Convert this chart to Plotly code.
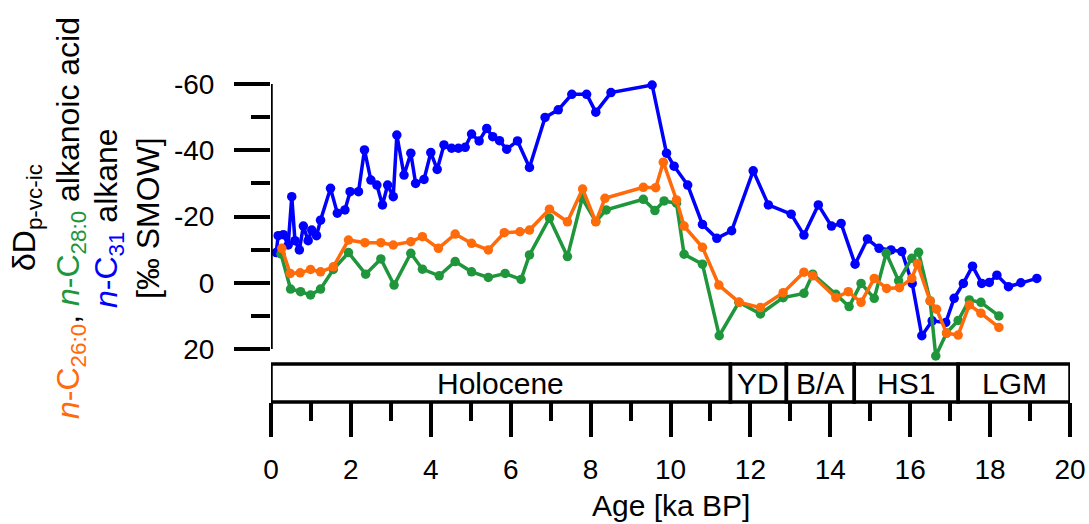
import plotly.graph_objects as go

# ---- data ----
blue_age = [0.13, 0.18, 0.31, 0.43, 0.52, 0.60, 0.71, 0.81, 0.93, 1.02, 1.14, 1.24, 1.49, 1.66, 1.85, 1.98,
            2.19, 2.34, 2.50, 2.65, 2.79, 2.92, 3.06, 3.15, 3.33, 3.50, 3.62, 3.83, 4.00, 4.16, 4.33, 4.52,
            4.69, 4.86, 5.02, 5.21, 5.40, 5.55, 5.72, 5.90, 6.17, 6.47, 6.86, 7.19, 7.53, 7.90, 8.13, 8.51,
            9.54, 9.90, 10.09, 10.43, 10.80, 11.16, 11.53, 12.07, 12.45, 13.02, 13.34, 13.70, 14.03, 14.27,
            14.62, 14.93, 15.22, 15.52, 15.79, 16.05, 16.29, 16.55, 16.89, 17.10, 17.33, 17.56, 17.79, 17.98,
            18.17, 18.46, 18.77, 19.17]
blue_dd = [-9.1, -14.2, -14.5, -11.4, -26.0, -12.7, -9.9, -17.1, -12.7, -15.9, -14.2, -18.9, -28.5, -21.0, -22.0, -27.5,
           -27.5, -40.1, -31.0, -29.5, -23.5, -29.5, -26.0, -44.6, -32.5, -39.1, -30.0, -31.2, -39.3, -34.2, -41.6, -40.6,
           -40.6, -40.9, -44.9, -42.8, -46.6, -44.1, -42.9, -40.3, -42.8, -34.8, -49.9, -52.2, -56.9, -56.9, -51.5, -57.4,
           -59.7, -39.1, -35.2, -29.5, -17.6, -13.4, -15.7, -33.8, -23.5, -20.7, -14.4, -23.5, -17.1, -17.9,
           -5.6, -13.2, -10.4, -9.9, -9.4, 0.2, 16.0, 11.5, 12.0, 4.7, 0.2, -5.0, 0.2, -0.1,
           -2.3, 1.2, 0.0, -1.3]

orange_age = [0.27, 0.48, 0.73, 0.99, 1.24, 1.56, 1.94, 2.35, 2.75, 3.06, 3.50, 3.79, 4.19, 4.61, 5.02, 5.44,
              5.84, 6.23, 6.47, 6.97, 7.42, 7.80, 8.13, 8.36, 9.32, 9.63, 9.82, 10.15, 10.34, 10.80, 11.21, 11.72,
              12.25, 12.82, 13.34, 13.56, 14.14, 14.45, 14.77, 15.10, 15.41, 15.73, 16.04, 16.18, 16.50, 16.66,
              16.91, 17.20, 17.48, 17.77, 18.22]
orange_dd = [-10.4, -2.8, -3.0, -4.0, -3.3, -4.8, -12.9, -12.1, -12.1, -11.4, -12.4, -13.9, -10.4, -14.7, -11.9, -9.9,
             -15.1, -15.4, -15.9, -22.2, -18.4, -28.3, -18.4, -25.5, -28.8, -28.7, -36.4, -25.0, -17.1, -10.7, 0.7, 5.9,
             7.5, 3.0, -3.2, -2.1, 4.5, 2.7, 5.9, -1.3, 1.7, 1.5, -1.3, -5.7, 5.5, 8.0,
             15.2, 15.8, 6.7, 9.2, 13.5]

green_age = [0.25, 0.49, 0.74, 0.99, 1.24, 1.56, 1.94, 2.37, 2.75, 3.08, 3.50, 3.79, 4.21, 4.61, 5.02, 5.44,
             5.86, 6.26, 6.47, 6.97, 7.42, 7.79, 8.13, 8.39, 9.32, 9.61, 9.84, 10.15, 10.34, 10.80, 11.22, 11.71,
             12.25, 12.82, 13.34, 13.56, 14.14, 14.47, 14.77, 15.10, 15.40, 15.71, 16.04, 16.21, 16.50, 16.64,
             16.91, 17.20, 17.48, 17.77, 18.22]
green_dd = [-8.7, 1.9, 2.7, 3.7, 1.9, -4.0, -9.1, -2.6, -7.2, 0.7, -8.9, -4.1, -2.1, -6.4, -3.3, -1.6,
            -2.8, -1.0, -8.4, -19.5, -7.9, -25.5, -18.5, -22.0, -25.2, -21.8, -24.7, -24.0, -8.6, -5.6, 16.0, 5.9,
            9.4, 4.5, 3.2, -2.6, 3.5, 7.2, 0.2, 4.7, -8.9, -0.6, -7.4, -9.2, 5.5, 22.1,
            15.2, 11.4, 5.2, 5.9, 10.0]

period_names = ["Holocene", "YD", "B/A", "HS1", "LGM"]
period_start = [0.0, 11.5, 12.9, 14.6, 17.2]
period_end = [11.5, 12.9, 14.6, 17.2, 20.0]

x_major = [0, 2, 4, 6, 8, 10, 12, 14, 16, 18, 20]
x_labels = ["0", "2", "4", "6", "8", "10", "12", "14", "16", "18", "20"]
y_major = [-60, -40, -20, 0, 20]
y_labels = ["-60", "-40", "-20", "0", "20"]
y_minor = [-50, -30, -10, 10]

# ---- style ----
BLUE = "#0000FF"
ORANGE = "#FF6A0A"
GREEN = "#20963C"
FONT = "Arial, Liberation Sans, sans-serif"

W, H = 1089, 524
L, R, T, B = 271, 19, 84, 122
plot_h = H - T - B
Y_TOP_VAL, Y_BOT_VAL = -60, 22.5
Y_AXIS_BOTTOM_PX = 349  # pixel of value 20
px_per_unit = (Y_AXIS_BOTTOM_PX - T) / 80.0
y_dom_bottom_px = T + (Y_BOT_VAL - Y_TOP_VAL) * px_per_unit
y_dom0 = (H - B - y_dom_bottom_px) / plot_h
box_top = (H - B - 364) / plot_h


def paper_x(px):
    return (px - L) / (W - L - R)


def paper_y(py):
    return (H - B - py) / plot_h


fig = go.Figure()
for xs, ys, col in [(blue_age, blue_dd, BLUE), (green_age, green_dd, GREEN), (orange_age, orange_dd, ORANGE)]:
    fig.add_trace(go.Scatter(x=xs, y=ys, mode="lines+markers",
                             line=dict(color=col, width=3.5),
                             marker=dict(color=col, size=9.5),
                             cliponaxis=False, showlegend=False))

shapes = []
for s, e in zip(period_start, period_end):
    shapes.append(dict(type="rect", xref="x", yref="paper", x0=s, x1=e, y0=0, y1=box_top,
                       line=dict(color="black", width=3.5), fillcolor="rgba(0,0,0,0)", layer="above"))
# y axis line
shapes.append(dict(type="line", xref="x", yref="y", x0=0, x1=0, y0=-60, y1=20,
                   line=dict(color="black", width=3.5)))

annotations = []
for name, s, e in zip(period_names, period_start, period_end):
    annotations.append(dict(x=(s + e) / 2, y=box_top / 2, xref="x", yref="paper", text=name,
                            showarrow=False, font=dict(size=30, color="black", family=FONT),
                            xanchor="center", yanchor="middle"))

annotations.append(dict(x=10, y=paper_y(505), xref="x", yref="paper", text="Age [ka BP]",
                        showarrow=False, font=dict(size=30, color="black", family=FONT),
                        xanchor="center", yanchor="middle"))

title_lines = [
    (26, "δD<sub>p-vc-ic</sub>"),
    (70, f"<span style='color:{ORANGE}'><i>n</i>-C<sub>26:0</sub></span>, "
         f"<span style='color:{GREEN}'><i>n</i>-C<sub>28:0</sub></span> alkanoic acid"),
    (108, f"<span style='color:{BLUE}'><i>n</i>-C<sub>31</sub></span> alkane"),
    (148, "[‰ SMOW]"),
]
for px, txt in title_lines:
    annotations.append(dict(x=paper_x(px), y=paper_y(218), xref="paper", yref="paper", text=txt,
                            textangle=-90, showarrow=False,
                            font=dict(size=32, color="black", family=FONT),
                            xanchor="center", yanchor="middle"))

fig.update_layout(
    width=W, height=H, autosize=False,
    margin=dict(l=L, r=R, t=T, b=B, pad=0, autoexpand=False),
    plot_bgcolor="white", paper_bgcolor="white",
    font=dict(family=FONT, size=28, color="black"),
    shapes=shapes, annotations=annotations,
    xaxis=dict(range=[0, 20], domain=[0, 1], anchor="free", position=0, automargin=False,
               tickmode="array", tickvals=x_major, ticktext=x_labels,
               ticks="outside", ticklen=34, tickwidth=3.5, tickcolor="black",
               minor=dict(dtick=1, tick0=0, ticks="outside", ticklen=18, tickwidth=3.5, tickcolor="black",
                          showgrid=False),
               showline=False, showgrid=False, zeroline=False,
               tickfont=dict(size=28, family=FONT), ticklabelstandoff=8),
    yaxis=dict(range=[Y_BOT_VAL, Y_TOP_VAL], domain=[y_dom0, 1], anchor="x", automargin=False,
               tickmode="array", tickvals=y_major, ticktext=y_labels,
               ticks="outside", ticklen=36, tickwidth=3.5, tickcolor="black",
               minor=dict(tickvals=y_minor, ticks="outside", ticklen=19, tickwidth=3.5, tickcolor="black",
                          showgrid=False),
               showline=False, showgrid=False, zeroline=False,
               tickfont=dict(size=28, family=FONT), ticklabelstandoff=14),
)

fig.write_html("out.html",
               config={"displayModeBar": False},
               post_script="document.documentElement.style.margin='0';"
                           "document.body.style.margin='0';"
                           "document.body.style.overflow='hidden';")
